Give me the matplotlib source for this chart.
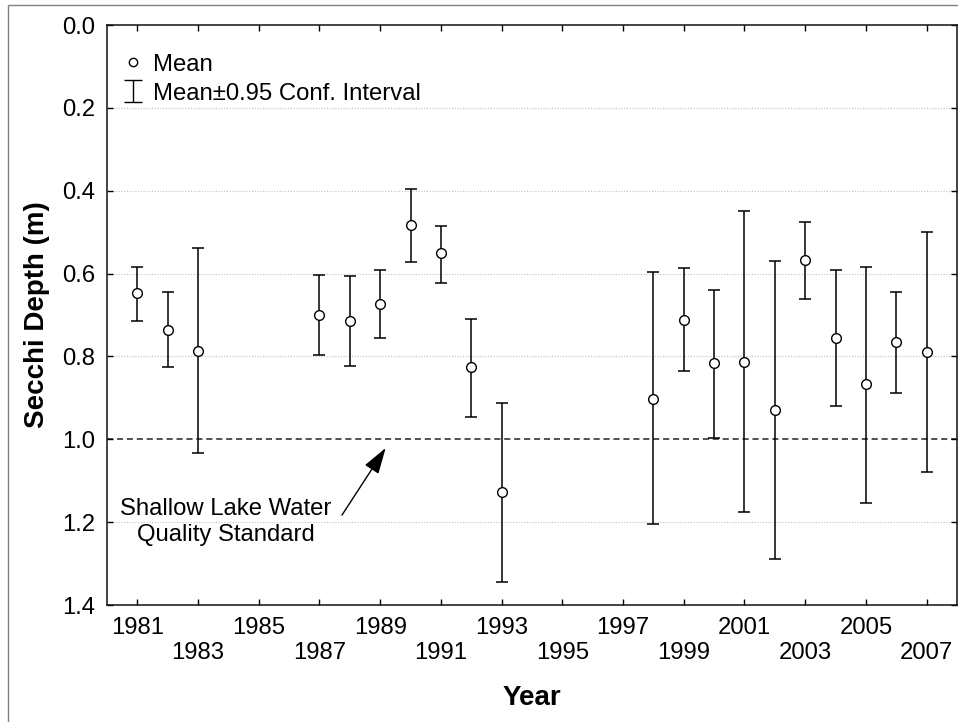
import matplotlib
matplotlib.use("Agg")
import matplotlib.pyplot as plt
from matplotlib.lines import Line2D
from matplotlib.path import Path
from matplotlib.patches import Rectangle
import numpy as np

plt.rcParams['font.family'] = ['Liberation Sans', 'DejaVu Sans']

years = [1981, 1982, 1983, 1987, 1988, 1989, 1990, 1991, 1992, 1993,
         1998, 1999, 2000, 2001, 2002, 2003, 2004, 2005, 2006, 2007]
mean = [0.648, 0.736, 0.786, 0.700, 0.714, 0.673, 0.483, 0.551, 0.826, 1.128,
        0.902, 0.711, 0.816, 0.813, 0.929, 0.568, 0.756, 0.866, 0.766, 0.789]
ci_lo = [0.583, 0.645, 0.538, 0.603, 0.607, 0.592, 0.396, 0.484, 0.710, 0.913,
         0.597, 0.587, 0.639, 0.450, 0.569, 0.476, 0.592, 0.583, 0.645, 0.499]
ci_hi = [0.715, 0.826, 1.033, 0.797, 0.822, 0.755, 0.571, 0.622, 0.946, 1.345,
         1.205, 0.835, 0.996, 1.175, 1.289, 0.661, 0.919, 1.153, 0.888, 1.079]
xticks = list(range(1981, 2008, 2))
yticks = [0.0, 0.2, 0.4, 0.6, 0.8, 1.0, 1.2, 1.4]
standard = 1.0

FS = 17.2

fig = plt.figure(figsize=(9.58, 7.22), dpi=100)
ax = fig.add_axes([107/958, 1-605/722, (957-107)/958, (605-25)/722])

# gridlines
for yv in yticks:
    if yv in (0.0, 1.4, standard):
        continue
    ax.axhline(yv, color='#c0c0c0', lw=0.8, ls=(0, (1, 1.5)), zorder=0)
ax.axhline(standard, color='#222222', lw=1.1, ls=(0, (4, 2.5)), zorder=1)

m = np.array(mean)
yerr = np.vstack([m - np.array(ci_lo), np.array(ci_hi) - m])
ax.errorbar(years, mean, yerr=yerr, fmt='none', ecolor='black', elinewidth=1.1,
            capsize=4.5, capthick=1.1, zorder=2)
ax.plot(years, mean, ls='none', marker='o', ms=7, mfc='white', mec='black',
        mew=1.0, zorder=3)

ax.set_xlim(1980, 2008)
ax.set_ylim(1.4, 0.0)
ax.set_xticks(xticks)
ax.set_xticklabels([str(y) if i % 2 == 0 else '\n' + str(y) for i, y in enumerate(xticks)],
                   linespacing=1.2)
ax.set_yticks(yticks)
ax.set_yticklabels(['%.1f' % v for v in yticks])
ax.tick_params(direction='in', length=4, width=1, top=True, right=True,
               labelsize=FS, pad=8.5, colors='black')
for s in ax.spines.values():
    s.set_linewidth(1.1)
    s.set_color('#111111')

ax.set_ylabel('Secchi Depth (m)', fontsize=20, fontweight='bold')
ax.yaxis.set_label_coords(-0.067, 0.5)
ax.set_xlabel('Year', fontsize=20, fontweight='bold')
ax.xaxis.set_label_coords(0.5, -0.138)
ax.xaxis.label.set_va('top')

# annotation
ax.text(1983.9, 1.20, 'Shallow Lake Water\nQuality Standard', ha='center', va='center',
        fontsize=FS, linespacing=1.2)
ax.annotate('', xy=(1989.18, 1.021), xytext=(1987.74, 1.183),
            arrowprops=dict(arrowstyle='-|>,head_length=0.9,head_width=0.28', color='black',
                            lw=1.0, shrinkA=0, shrinkB=0, mutation_scale=18))

# legend
ibeam = Path([(-0.8, 1), (0.8, 1), (0, 1), (0, -1), (-0.8, -1), (0.8, -1)],
             [Path.MOVETO, Path.LINETO, Path.MOVETO, Path.LINETO, Path.MOVETO, Path.LINETO])
h1 = Line2D([], [], ls='none', marker='o', ms=6, mfc='white', mec='black', mew=1.0)
h2 = Line2D([], [], ls='none', marker=ibeam, ms=16, mec='black', mew=1.0, fillstyle='none')
leg = ax.legend([h1, h2], ['Mean', 'Mean\u00b10.95 Conf. Interval'], loc='upper left',
                frameon=False, fontsize=FS, handlelength=1.0, handletextpad=0.35,
                labelspacing=0.3, borderaxespad=0.0, bbox_to_anchor=(0.008, 0.963),
                borderpad=0.3)

# outer figure border (top & left visible)
fig.patches.append(Rectangle((8/958, -0.1), 1.2, 1.1 - 5/722, transform=fig.transFigure,
                             fill=False, edgecolor='#808080', lw=1.0))

fig.savefig('out.png', dpi=100)
